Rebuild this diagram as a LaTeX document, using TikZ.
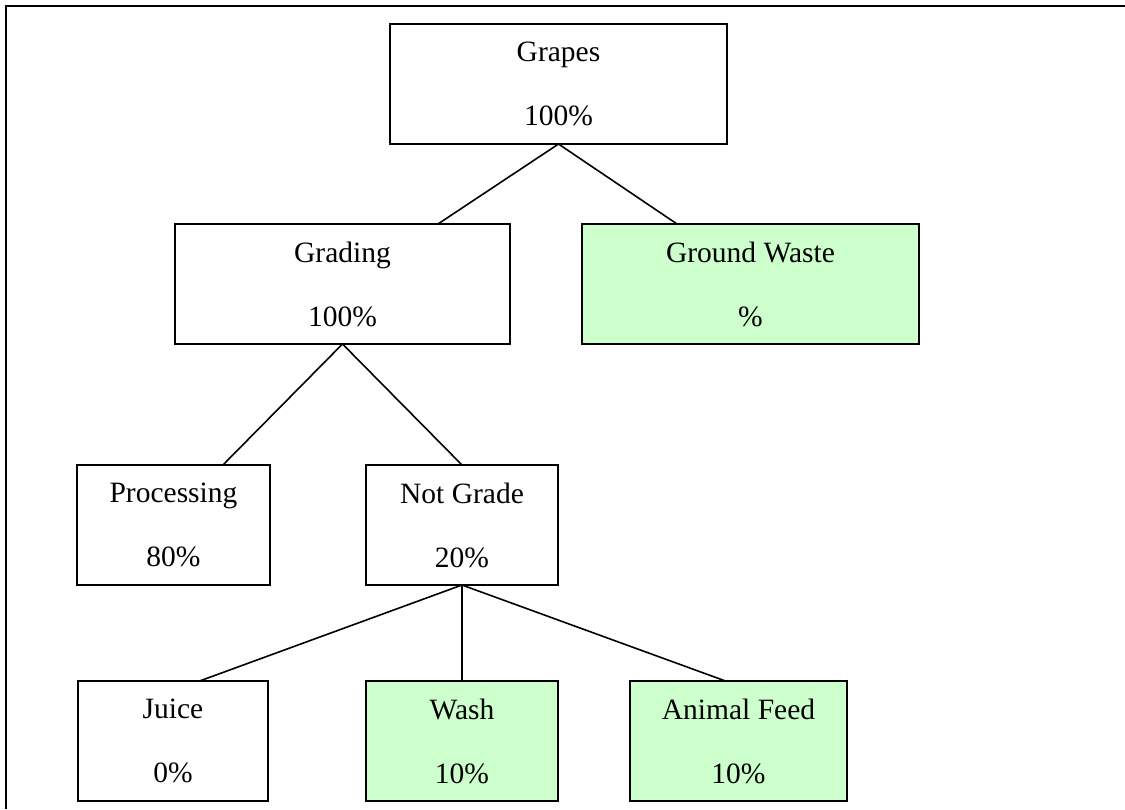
\documentclass[tikz,border=0pt]{standalone}
\usepackage{fontspec}
\setmainfont{Liberation Serif}
\usetikzlibrary{calc}
\definecolor{wastegreen}{HTML}{CCFFCC}
\begin{document}
\begin{tikzpicture}[x=1pt,y=-1pt,
  stage/.style={draw=black, line width=1.6pt, rectangle, inner sep=0pt, outer sep=0pt,
    minimum height=120pt, align=center, font=\fontsize{29.5}{64}\selectfont},
  waste/.style={stage, fill=wastegreen},
  link/.style={draw=black, line width=1.6pt}]
\useasboundingbox (0,0) rectangle (1125,809);
% page frame (top and left edges)
\draw[line width=2pt] (1125,6) -- (5.5,6) -- (5.5,809);

% stages
\node[stage, minimum width=337pt] (grapes)   at (558.5,84)  {Grapes\\100\%};
\node[stage, minimum width=335pt] (grading)  at (342.5,284) {Grading\\100\%};
\node[waste, minimum width=337pt] (ground)   at (750.5,284) {Ground Waste\\\%};
\node[stage, minimum width=193pt] (proc)     at (173.5,525) {Processing\\80\%};
\node[stage, minimum width=192pt] (notgrade) at (462,525)   {Not Grade\\20\%};
\node[stage, minimum width=190pt] (juice)    at (173,741)   {Juice\\0\%};
\node[waste, minimum width=192pt] (wash)     at (462,741)   {Wash\\10\%};
\node[waste, minimum width=217pt] (feed)     at (738.5,741) {Animal Feed\\10\%};

% connectors
\draw[link] (grapes.south) -- ($(grading.north west)!0.785!(grading.north east)$);
\draw[link] (grapes.south) -- ($(ground.north west)!0.282!(ground.north east)$);
\draw[link] (grading.south) -- ($(proc.north west)!0.756!(proc.north east)$);
\draw[link] (grading.south) -- (notgrade.north);
\draw[link] (notgrade.south) -- ($(juice.north west)!0.64!(juice.north east)$);
\draw[link] (notgrade.south) -- (wash.north);
\draw[link] (notgrade.south) -- ($(feed.north west)!0.44!(feed.north east)$);
\end{tikzpicture}
\end{document}
